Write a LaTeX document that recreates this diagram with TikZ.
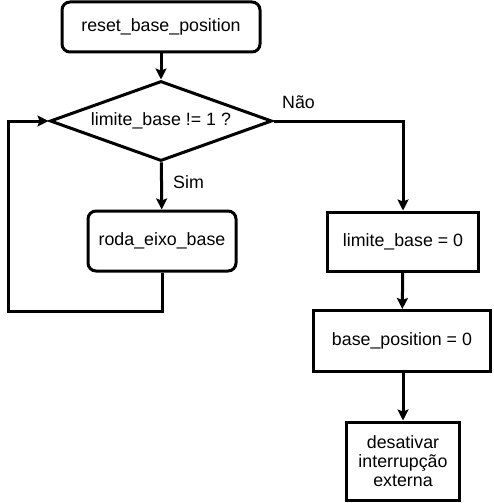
\documentclass[tikz,border=0pt]{standalone}
\usepackage{fontspec}
\setmainfont{Liberation Sans}
\usetikzlibrary{shapes.geometric,arrows.meta}
\begin{document}
\begin{tikzpicture}[x=1pt,y=-1pt,
  every node/.style={font=\fontsize{17.8}{21}\selectfont},
  base/.style={draw,line width=3pt,inner sep=0pt,align=center,fill=white},
  rbox/.style={base,rounded corners=8pt},
  pbox/.style={base},
  flow/.style={line width=3pt,-{Stealth[length=11pt,width=11pt,inset=2pt]}},
  lbl/.style={inner sep=0pt}]
\useasboundingbox (0,0) rectangle (494,503);
\node[rbox,minimum width=198pt,minimum height=50pt] (reset) at (161,27) {reset\_base\_position};
\node[base,diamond,aspect=2.775,minimum width=222pt,minimum height=80pt] (dec) at (161,121) {limite\_base != 1 ?};
\node[rbox,minimum width=148pt,minimum height=60pt] (roda) at (162,241) {roda\_eixo\_base};
\node[pbox,minimum width=151pt,minimum height=59pt] (lim) at (403,241.5) {limite\_base = 0};
\node[pbox,minimum width=177pt,minimum height=61pt] (pos) at (402,341) {base\_position = 0};
\node[pbox,minimum width=113pt,minimum height=78pt,text width=110pt] (des) at (403,461) {desativar\\[-2pt]interrupção\\[-2pt]externa};
\coordinate (l1) at (162,311);
\coordinate (l2) at (8,311);
\coordinate (l3) at (8,121);
\coordinate (r1) at (403,121);
\draw[flow] (reset) -- (dec);
\draw[flow] (dec) -- (roda);
\draw[flow] (roda.south) -- (l1) -- (l2) -- (l3) -- (dec.west);
\draw[flow] (dec.east) -- (r1) -- (lim.north);
\draw[flow] (lim) -- (pos);
\draw[flow] (pos.south -| des.north) -- (des);
\node[lbl,anchor=west] (sim) at (173,182) {Sim};
\node[lbl,anchor=west] (nao) at (282,102) {Não};
\end{tikzpicture}
\end{document}
